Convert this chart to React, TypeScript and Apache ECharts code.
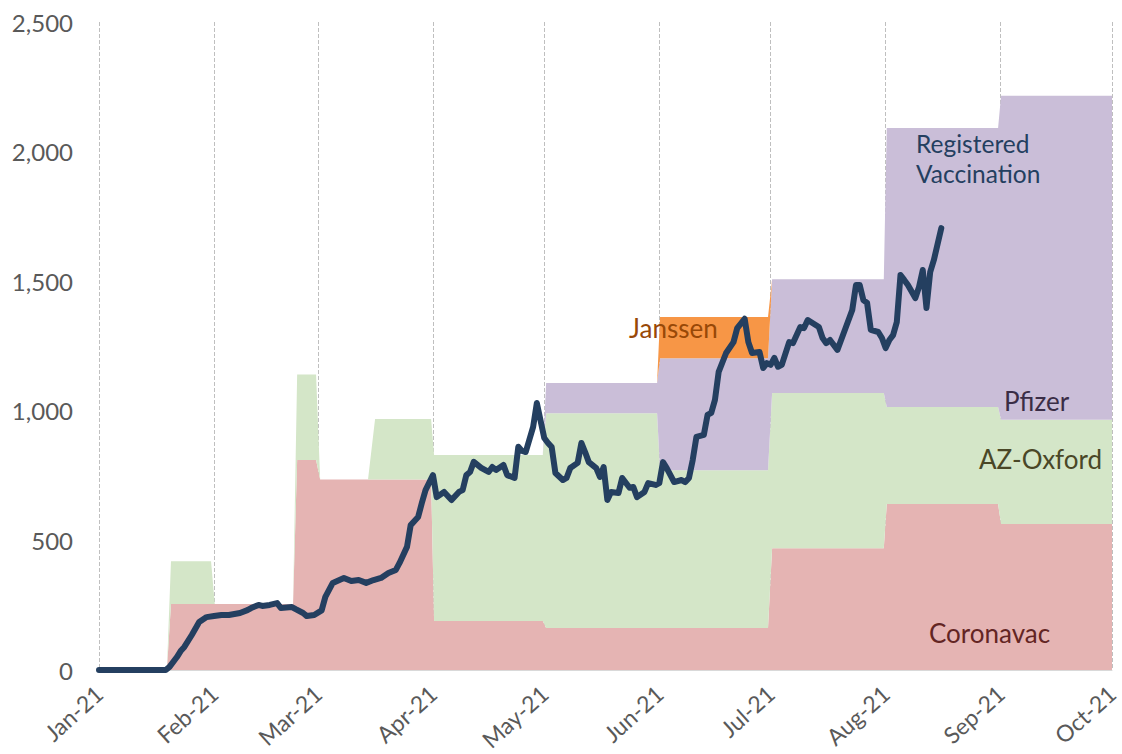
import React, { useEffect, useRef } from "react";
import * as echarts from "echarts";

// ---- x axis tick labels (months) ----
const monthLabels = ["Jan-21", "Feb-21", "Mar-21", "Apr-21", "May-21", "Jun-21", "Jul-21", "Aug-21", "Sep-21", "Oct-21"];

// ---- stacked vaccine supply areas: days since 1 Jan 2021 ----
const areaDays = [0, 18.3, 19.4, 30.2, 31.2, 52.3, 53.4, 58.5, 59.6, 72.5, 74.4, 89.5, 90.3, 119.6, 120.5, 150.4, 151.2, 180.3, 181.4, 211.5, 212.3, 242.3, 243.1, 273];
const coronavac = [0, 0, 255, 255, 255, 255, 810, 810, 735, 735, 735, 735, 189, 189, 162, 162, 162, 162, 470, 470, 640, 640, 563, 563];
const azOxford = [0, 0, 165, 165, 0, 0, 330, 330, 0, 0, 233, 233, 640, 640, 829, 829, 609, 609, 599, 599, 375, 375, 402, 402];
const pfizer = [0, 0, 0, 0, 0, 0, 0, 0, 0, 0, 0, 0, 0, 0, 116, 116, 432, 432, 439, 439, 1076, 1076, 1250, 1250];
const janssen = [0, 0, 0, 0, 0, 0, 0, 0, 0, 0, 0, 0, 0, 0, 0, 0, 159, 159, 0, 0, 0, 0, 0, 0];

// ---- registered vaccination line: days since 1 Jan 2021 ----
const lineDays = [0, 18, 19, 21, 22, 23, 25, 27, 29, 31, 33, 35, 38, 40, 41, 43, 44, 46, 48, 49, 52, 53, 55, 56, 58, 60, 61, 63, 66, 68, 70, 72, 74, 76, 78, 80, 81, 83, 84, 86, 87, 88, 90, 91, 93, 95, 97, 98, 99, 100, 101, 103, 105, 106, 107, 109, 110, 112, 113, 114, 115, 117, 118, 120, 121, 122, 123, 125, 126, 127, 129, 130, 131, 132, 134, 135, 136, 137, 138, 140, 141, 143, 144, 145, 147, 148, 150, 151, 152, 153, 155, 157, 158, 159, 160, 161, 163, 164, 165, 166, 167, 169, 171, 172, 174, 175, 176, 178, 179, 180, 181, 182, 183, 184, 186, 187, 189, 190, 191, 194, 195, 196, 197, 199, 200, 203, 204, 205, 206, 207, 208, 210, 211, 212, 213, 214, 215, 216, 217, 218, 220, 221, 222, 223, 224, 225, 227];
const lineValues = [0, 0, 12, 50, 73, 89, 135, 185, 204, 208, 212, 212, 220, 231, 239, 251, 247, 251, 258, 239, 243, 235, 220, 208, 212, 230, 282, 336, 355, 343, 347, 336, 347, 355, 374, 386, 413, 475, 559, 590, 644, 694, 752, 667, 687, 656, 687, 694, 752, 764, 803, 780, 764, 783, 772, 791, 752, 741, 861, 845, 841, 938, 1030, 895, 876, 860, 760, 733, 741, 779, 799, 876, 841, 802, 779, 745, 783, 656, 687, 683, 741, 703, 706, 667, 687, 721, 714, 721, 802, 779, 725, 733, 725, 741, 810, 899, 907, 984, 992, 1042, 1150, 1223, 1265, 1319, 1355, 1265, 1223, 1227, 1165, 1184, 1177, 1204, 1170, 1177, 1265, 1261, 1323, 1319, 1350, 1323, 1281, 1261, 1273, 1235, 1273, 1389, 1485, 1485, 1427, 1416, 1312, 1304, 1281, 1242, 1273, 1292, 1342, 1524, 1505, 1485, 1435, 1478, 1543, 1397, 1535, 1582, 1705];

const DAY = 86400000;
const BASE = new Date(2021, 0, 1).getTime();
const dayToTime = (d: number) => BASE + d * DAY;
const FONT = "Lato";

function areaSeries(name: string, values: number[], color: string) {
  return {
    name,
    type: "line",
    stack: "supply",
    data: areaDays.map((d, i) => [dayToTime(d), values[i]]),
    symbol: "none",
    lineStyle: { width: 0, opacity: 0 },
    areaStyle: { color, opacity: 1 },
    itemStyle: { color },
    z: 2,
  };
}

export default function App() {
  const ref = useRef<HTMLDivElement>(null);
  useEffect(() => {
    if (!ref.current) return;
    const chart = echarts.init(ref.current, null, { renderer: "svg" });
    const txt = (text: string, x: number, y: number, color: string, size = 26) => ({
      type: "text",
      x,
      y,
      z: 100,
      style: { text, fill: color, fontSize: size, fontFamily: FONT, align: "left", verticalAlign: "middle" },
    });
    chart.setOption({
      animation: false,
      backgroundColor: "#ffffff",
      grid: { left: 99, right: 10, top: 22, bottom: 84 },
      xAxis: {
        type: "time",
        min: new Date(2021, 0, 1).getTime(),
        max: new Date(2021, 9, 1).getTime(),
        splitNumber: 9,
        minInterval: 28 * DAY,
        maxInterval: 31 * DAY,
        axisLine: { show: true, lineStyle: { color: "#D9D9D9", width: 1 } },
        axisTick: { show: false },
        splitLine: { show: true, lineStyle: { color: "#BFBFBF", type: "dashed", width: 1 } },
        axisLabel: {
          rotate: 42,
          margin: 20,
          color: "#595959",
          fontSize: 23,
          fontFamily: FONT,
          showMinLabel: true,
          showMaxLabel: true,
          hideOverlap: false,
          formatter: (v: number) => {
            const dt = new Date(v);
            return monthLabels[dt.getMonth()] ?? "";
          },
        },
      },
      yAxis: {
        type: "value",
        min: 0,
        max: 2500,
        interval: 500,
        axisLine: { show: false },
        axisTick: { show: false },
        splitLine: { show: false },
        axisLabel: {
          margin: 26,
          color: "#595959",
          fontSize: 24,
          fontFamily: FONT,
          formatter: (v: number) => v.toLocaleString("en-US"),
        },
      },
      series: [
        areaSeries("Coronavac", coronavac, "#E5B4B3"),
        areaSeries("AZ-Oxford", azOxford, "#D4E6C8"),
        areaSeries("Pfizer", pfizer, "#CABED8"),
        areaSeries("Janssen", janssen, "#F79646"),
        {
          name: "Registered Vaccination",
          type: "line",
          data: lineDays.map((d, i) => [dayToTime(d), lineValues[i]]),
          symbol: "none",
          lineStyle: { width: 6, color: "#243F60", join: "round", cap: "round" },
          itemStyle: { color: "#243F60" },
          z: 10,
        },
      ],
      graphic: [
        txt("Registered", 916, 143, "#243F60", 24.5),
        txt("Vaccination", 916, 173, "#243F60", 24.5),
        txt("Janssen", 629, 328, "#984807"),
        txt("Pfizer", 1004, 401, "#3A2D46"),
        txt("AZ-Oxford", 979, 459, "#4A4727"),
        txt("Coronavac", 929, 633, "#632523"),
      ],
    });
    return () => chart.dispose();
  }, []);
  return <div ref={ref} style={{ position: "fixed", left: 0, top: 0, width: 1122, height: 754 }} />;
}
